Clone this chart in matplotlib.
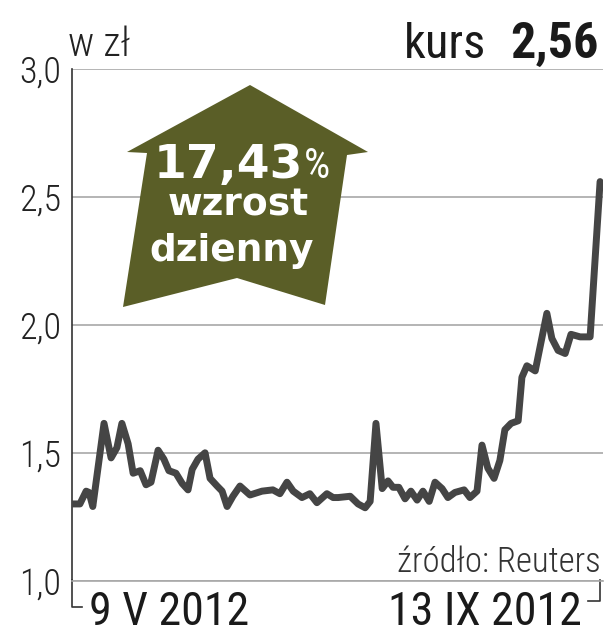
import matplotlib
matplotlib.use("Agg")
import matplotlib.pyplot as plt
from matplotlib import font_manager
from matplotlib.patches import Polygon

# dni od 9 V 2012 i kurs w zł
days = [0, 1.9, 3.4, 4.1, 5.0, 7.7, 9.4, 10.8, 12.0, 13.5,
        14.7, 16.4, 17.8, 19.0, 20.7, 22.1, 23.3, 25.0, 26.5, 27.9,
        28.9, 30.3, 32.0, 33.2, 34.9, 36.1, 37.3, 38.7, 40.4, 42.8,
        45.7, 48.3, 50.0, 51.7, 53.2, 55.3, 57.2, 58.9, 61.3, 62.8,
        64.0, 66.9, 68.8, 70.5, 71.7, 73.1, 74.6, 76.0, 77.2, 78.6,
        80.1, 81.5, 83.0, 84.4, 85.9, 87.3, 89.0, 90.4, 92.1, 94.3,
        95.7, 97.4, 98.6, 100.0, 101.5, 102.9, 104.1, 105.6, 107.3, 108.2,
        109.4, 111.4, 114.2, 115.4, 116.9, 118.6, 120.0, 122.2, 124.6, 127.0]
kurs = [1.30, 1.30, 1.35, 1.345, 1.29, 1.615, 1.48, 1.52, 1.615, 1.535,
        1.42, 1.43, 1.375, 1.385, 1.51, 1.475, 1.43, 1.42, 1.38, 1.355,
        1.435, 1.475, 1.50, 1.40, 1.37, 1.35, 1.29, 1.33, 1.37, 1.335,
        1.35, 1.355, 1.34, 1.385, 1.35, 1.325, 1.34, 1.305, 1.34, 1.325,
        1.325, 1.33, 1.30, 1.285, 1.31, 1.615, 1.36, 1.39, 1.365, 1.365,
        1.32, 1.35, 1.315, 1.35, 1.31, 1.385, 1.36, 1.325, 1.345, 1.355,
        1.325, 1.35, 1.53, 1.44, 1.40, 1.47, 1.59, 1.615, 1.625, 1.795,
        1.84, 1.82, 2.045, 1.947, 1.90, 1.888, 1.963, 1.953, 1.953, 2.56]

y_ticks = [1.0, 1.5, 2.0, 2.5, 3.0]
y_labels = ["1,0", "1,5", "2,0", "2,5", "3,0"]
date_start = "9 V 2012"
date_end = "13 IX 2012"

installed = {f.name for f in font_manager.fontManager.ttflist}
narrow = next((n for n in ["Roboto Condensed", "Liberation Sans Narrow", "DejaVu Sans"]
               if n in installed), "DejaVu Sans")

W, H = 605, 640


def px(x, y):
    return x / W, 1 - y / H


fig = plt.figure(figsize=(W / 100, H / 100), dpi=100)
ax = fig.add_axes([72 / W, 1 - 580.7 / H, (603 - 72) / W, (580.7 - 69) / H])

ax.plot(days, kurs, color="#454545", lw=5.0, solid_joinstyle="round",
        solid_capstyle="round", zorder=3)

ax.set_xlim(0, 127.7)
ax.set_ylim(1.0, 3.0)
ax.set_yticks(y_ticks)
ax.set_yticklabels(y_labels, fontsize=26, family=narrow, weight="light", color="#222222")
ax.tick_params(axis="y", length=0, pad=8)
ax.set_xticks([])
ax.grid(axis="y", color="#a8a8a8", lw=1.2)
for s in ["top", "right", "bottom"]:
    ax.spines[s].set_visible(False)
ax.spines["left"].set_color("#333333")
ax.spines["left"].set_linewidth(1.2)

# klamra pod osią
fig.add_artist(plt.Line2D([72 / W, 72 / W, 82 / W], [1 - 580 / H, 1 - 607 / H, 1 - 607 / H],
                          color="#333333", lw=1.2))
fig.add_artist(plt.Line2D([588 / W, 600 / W, 600 / W], [1 - 601 / H, 1 - 601 / H, 1 - 580 / H],
                          color="#333333", lw=1.2))
fig.add_artist(plt.Line2D([72 / W, 603 / W], [1 - 580.7 / H, 1 - 580.7 / H],
                          color="#a8a8a8", lw=1.2))

fig.text(*px(89, 625), date_start, fontsize=33, family=narrow, color="#1a1a1a",
         va="baseline", ha="left")
fig.text(*px(582, 625), date_end, fontsize=33, family=narrow, color="#1a1a1a",
         va="baseline", ha="right")
fig.text(*px(601, 572), "źródło: Reuters", fontsize=25, family=narrow, weight="light",
         color="#333333", va="baseline", ha="right")

fig.text(*px(68, 56), "w zł", fontsize=29, family=narrow, weight="light",
         color="#222222", va="baseline", ha="left")
fig.text(*px(486, 58), "kurs", fontsize=35, family=narrow, color="#1a1a1a",
         va="baseline", ha="right")
fig.text(*px(599, 58), "2,56", fontsize=36, family=narrow, weight="bold",
         color="#1a1a1a", va="baseline", ha="right")

# strzałka
arrow = [px(250, 85), px(368, 152), px(347, 155), px(325, 305), px(237, 278),
         px(123, 307), px(147, 153), px(127, 152)]
fig.add_artist(Polygon(arrow, closed=True, transform=fig.transFigure,
                       facecolor="#5a5e27", edgecolor="none", zorder=4))
fig.text(*px(303, 178), "17,43", fontsize=34, weight="bold", color="white",
         va="baseline", ha="right", zorder=5)
fig.text(*px(304, 178), "%", fontsize=30, family=narrow, color="white",
         va="baseline", ha="left", zorder=5)
fig.text(*px(238, 216), "wzrost", fontsize=27, weight="bold", color="white",
         va="baseline", ha="center", zorder=5)
fig.text(*px(232, 261), "dzienny", fontsize=27, weight="bold", color="white",
         va="baseline", ha="center", zorder=5)

fig.savefig("out.png", dpi=100)
